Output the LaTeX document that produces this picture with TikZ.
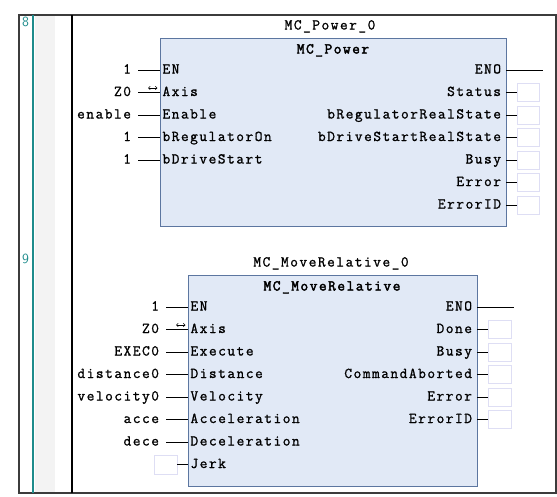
\documentclass[tikz,border=0pt]{standalone}
\usepackage{fontspec}
\newfontfamily\plcfont[LetterSpace=10,FakeBold=1.2]{Latin Modern Mono}
\newfontfamily\plcboldfont[LetterSpace=10,FakeBold=2.6]{Latin Modern Mono}
\usetikzlibrary{arrows.meta}
\definecolor{fbFill}{RGB}{225,233,246}
\definecolor{fbBorder}{RGB}{92,118,160}
\definecolor{eboxC}{RGB}{222,222,244}
\definecolor{tealC}{RGB}{30,140,140}
\definecolor{bandC}{RGB}{243,243,243}
\definecolor{frameC}{RGB}{60,60,60}
\begin{document}
\begin{tikzpicture}[x=1pt,y=-1pt,
  lbl/.style={font=\plcfont\fontsize{15}{17}\selectfont, inner ysep=0pt, text height=10pt, text depth=3pt, outer sep=0pt},
  val/.style={lbl, anchor=east, inner xsep=7pt},
  pinl/.style={lbl, anchor=west, inner xsep=2.5pt},
  pinr/.style={lbl, anchor=east, inner xsep=5pt},
  fb/.style={draw=fbBorder, fill=fbFill, line width=1pt, anchor=north west, inner sep=0pt, outer sep=0pt},
  ebox/.style={draw=eboxC, fill=white, line width=0.8pt, minimum width=22pt, minimum height=18pt, anchor=west, inner sep=0pt, outer sep=0pt},
  wire/.style={line width=0.9pt, black},
  axarr/.style={line width=0.6pt, {Straight Barb[length=1.8pt,width=3.5pt]}-{Straight Barb[length=1.8pt,width=3.5pt]}},
  title/.style={lbl, anchor=center},
  typename/.style={lbl, anchor=center, font=\plcboldfont\fontsize{15}{17}\selectfont},
  rung/.style={font=\sffamily\fontsize{14}{15}\selectfont, text=tealC, anchor=north west, inner sep=0pt}
]
\useasboundingbox (0,0) rectangle (557,496);
% frame and rails
\fill[bandC] (35,15) rectangle (55,493);
\draw[frameC, line width=1.2pt] (19,15) rectangle (556,493);
\draw[tealC, line width=1.6pt] (33,15) -- (33,493);
\draw[black, line width=2pt] (72,15) -- (72,493);
\node[rung] (r8) at (22,17) {8};
\node[rung] (r9) at (22,254) {9};

% ---------- MC_Power ----------
\node[fb, minimum width=346pt, minimum height=188pt] (b1) at (160,38) {};
\node[title] (b1inst) at (330,26) {MC\_Power\_0};
\node[typename] (b1type) at (333,50) {MC\_Power};
\foreach \t/\v [count=\i] in {EN/1, Axis/Z0, Enable/enable, bRegulatorOn/1, bDriveStart/1}{
  \node[pinl] (p1l\i) at (160,{70+22.5*(\i-1)}) {\t};
  \node[val] (v1l\i) at (138,{70+22.5*(\i-1)}) {\v};
  \draw[wire] (v1l\i.east) -- (p1l\i.west);
}
\draw[axarr] (148,88) -- (157.5,88);
\node[pinr] (p1r1) at (506,70) {ENO};
\coordinate (e1) at (543,70);
\draw[wire] (p1r1.east) -- (e1);
\foreach \t [count=\i from 2] in {Status, bRegulatorRealState, bDriveStartRealState, Busy, Error, ErrorID}{
  \node[pinr] (p1r\i) at (506,{70+22.5*(\i-1)}) {\t};
  \node[ebox] (o1r\i) at (517,{70+22.5*(\i-1)}) {};
  \draw[wire] (p1r\i.east) -- (o1r\i.west);
}

% ---------- MC_MoveRelative ----------
\node[fb, minimum width=289pt, minimum height=211pt] (b2) at (188,275) {};
\node[title] (b2inst) at (331,263) {MC\_MoveRelative\_0};
\node[typename] (b2type) at (332,287) {MC\_MoveRelative};
\foreach \t/\v [count=\i] in {EN/1, Axis/Z0, Execute/EXEC0, Distance/distance0, Velocity/velocity0, Acceleration/acce, Deceleration/dece}{
  \node[pinl] (p2l\i) at (188,{307+22.5*(\i-1)}) {\t};
  \node[val] (v2l\i) at (166,{307+22.5*(\i-1)}) {\v};
  \draw[wire] (v2l\i.east) -- (p2l\i.west);
}
\draw[axarr] (176,325) -- (185.5,325);
\node[pinl] (p2l8) at (188,464.5) {Jerk};
\node[ebox, anchor=east, minimum width=23pt, minimum height=19pt] (i2l8) at (177,464.5) {};
\draw[wire] (i2l8.east) -- (p2l8.west);
\node[pinr] (p2r1) at (477,307) {ENO};
\coordinate (e2) at (514,307);
\draw[wire] (p2r1.east) -- (e2);
\foreach \t [count=\i from 2] in {Done, Busy, CommandAborted, Error, ErrorID}{
  \node[pinr] (p2r\i) at (477,{307+22.5*(\i-1)}) {\t};
  \node[ebox, minimum width=23pt] (o2r\i) at (488,{307+22.5*(\i-1)}) {};
  \draw[wire] (p2r\i.east) -- (o2r\i.west);
}
\end{tikzpicture}
\end{document}
